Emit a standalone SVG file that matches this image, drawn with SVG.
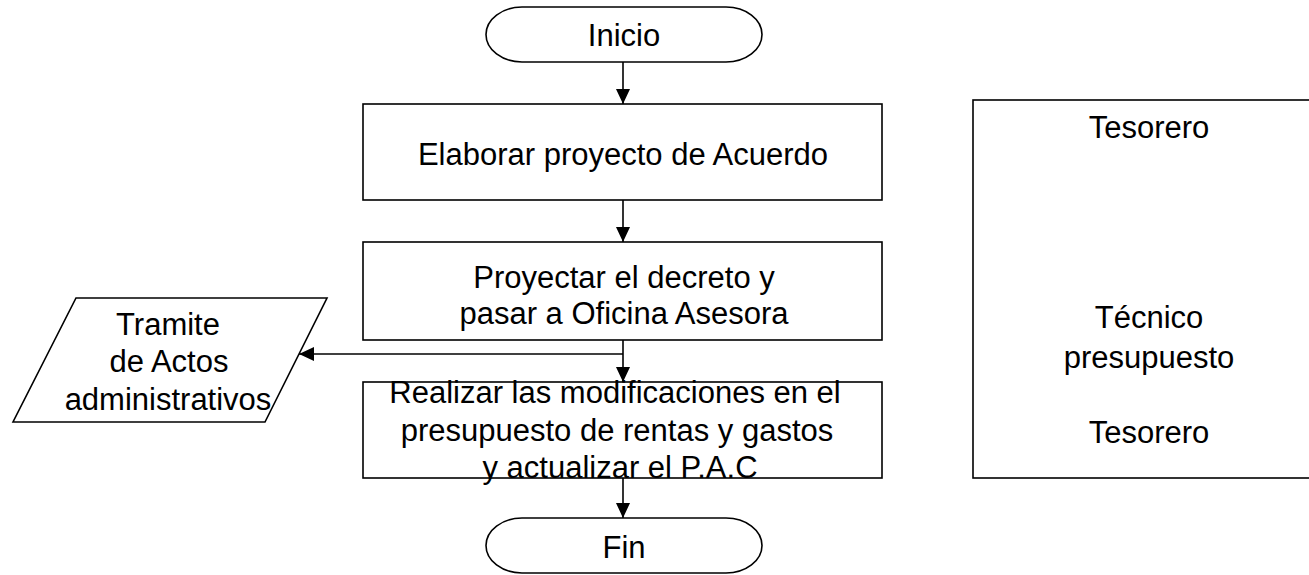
<svg xmlns="http://www.w3.org/2000/svg" width="1309" height="575" viewBox="0 0 1309 575">
<style>
.s{fill:#fff;stroke:#000;stroke-width:1.6}
.t{font-family:"Liberation Sans",Arial,sans-serif;font-size:31px;fill:#000;text-anchor:middle}
.c{fill:none;stroke:#000;stroke-width:1.6}
</style>
<defs>
<marker id="ah" markerUnits="userSpaceOnUse" markerWidth="15" markerHeight="14" refX="15" refY="7" orient="auto">
<path d="M0,0 L15,7 L0,14 z" fill="#000"/>
</marker>
</defs>
<rect width="1309" height="575" fill="#fff"/>
<g id="roles">
<rect class="s" x="973" y="100" width="360" height="378" stroke-width="1.4"/>
<text class="t" x="1149" y="138">Tesorero</text>
<text class="t" x="1149" y="328">Técnico</text>
<text class="t" x="1149" y="368">presupuesto</text>
<text class="t" x="1149" y="443">Tesorero</text>
</g>
<g id="inicio">
<rect class="s" x="486" y="7" width="276" height="55" rx="36" ry="27.5"/>
<text class="t" x="624" y="46">Inicio</text>
</g>
<g id="elaborar">
<rect class="s" x="363" y="104" width="519" height="96"/>
<text class="t" x="623" y="165">Elaborar proyecto de Acuerdo</text>
</g>
<g id="proyectar">
<rect class="s" x="363" y="242" width="519" height="98"/>
<text class="t" x="624" y="288">Proyectar el decreto y</text>
<text class="t" x="624" y="324">pasar a Oficina Asesora</text>
</g>
<g id="tramite">
<polygon class="s" points="76,298 327,298 265,422 13,422"/>
<text class="t" x="168" y="335">Tramite</text>
<text class="t" x="169" y="372">de Actos</text>
<text class="t" x="168" y="410">administrativos</text>
</g>
<g id="realizar">
<rect class="s" x="363" y="382" width="519" height="96"/>
<text class="t" x="615" y="403">Realizar las modificaciones en el</text>
<text class="t" x="617" y="441">presupuesto de rentas y gastos</text>
<text class="t" x="620" y="478">y actualizar el P.A.C</text>
</g>
<g id="fin">
<rect class="s" x="486" y="518" width="276" height="55" rx="36" ry="27.5"/>
<text class="t" x="624" y="558">Fin</text>
</g>
<g id="connectors">
<line class="c" x1="623" y1="62" x2="623" y2="104" marker-end="url(#ah)"/>
<line class="c" x1="623" y1="200" x2="623" y2="242" marker-end="url(#ah)"/>
<line class="c" x1="623" y1="340" x2="623" y2="382" marker-end="url(#ah)"/>
<line class="c" x1="623" y1="354" x2="299" y2="354" marker-end="url(#ah)"/>
<line class="c" x1="623" y1="478" x2="623" y2="518" marker-end="url(#ah)"/>
</g>
</svg>
